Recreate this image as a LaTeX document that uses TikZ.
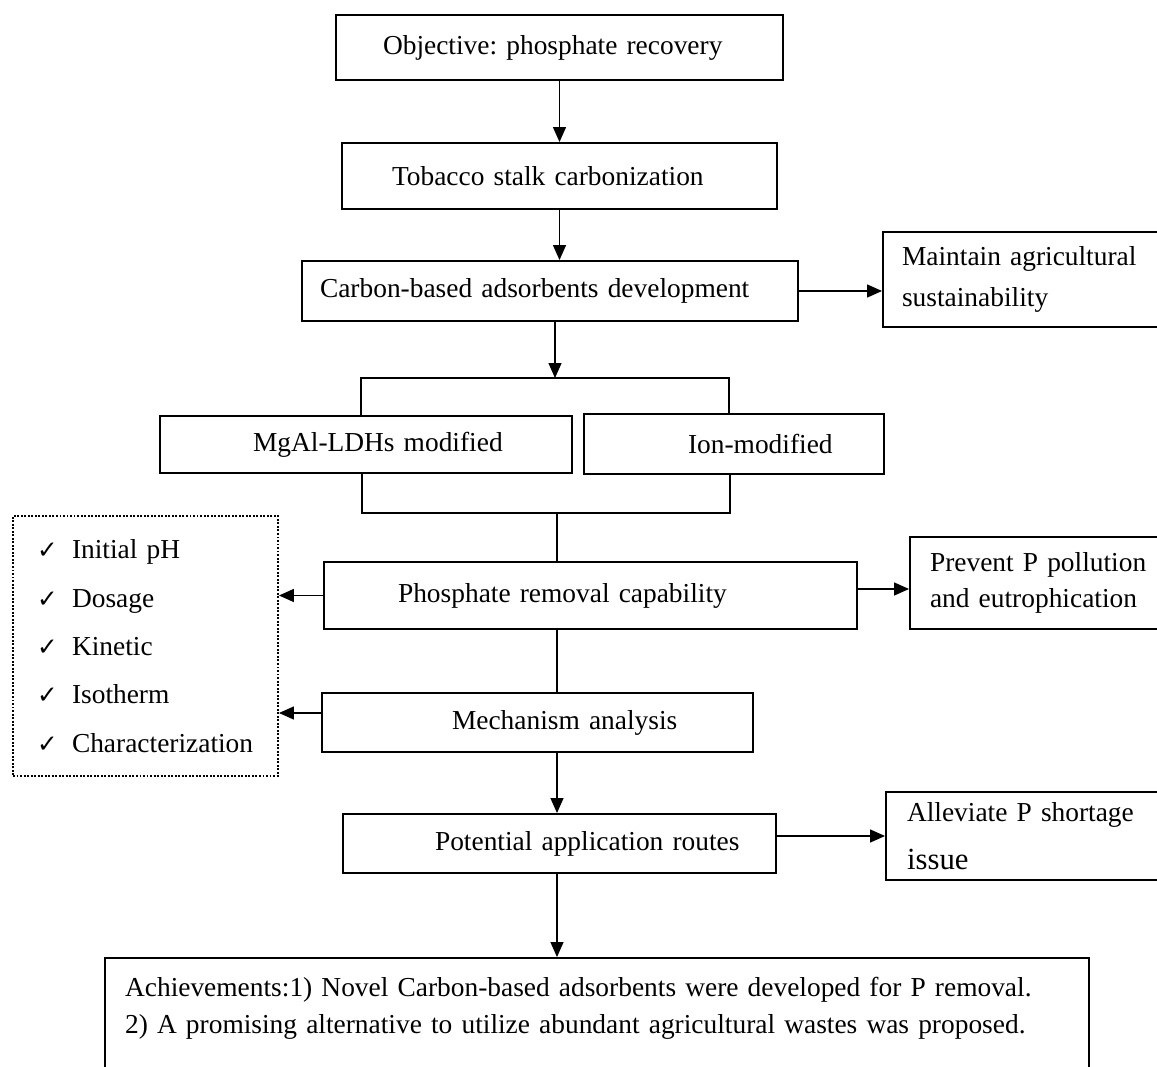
\documentclass[tikz,border=0pt]{standalone}
\usepackage{fontspec}
\setmainfont{Liberation Serif}
\newfontfamily\tickfont{DejaVu Sans}
\usetikzlibrary{arrows.meta}
\frenchspacing

\newcommand{\chk}{\makebox[0.70cm][l]{\tickfont\fontsize{14}{14}\selectfont ✓}}

\begin{document}
\begin{tikzpicture}[x=0.02cm, y=-0.02cm,
        box/.style={draw, line width=1.1pt, align=left, inner ysep=0pt, font=\fontsize{15.6}{19}\selectfont},
        checklist/.style={draw, line width=1.1pt, dash pattern=on 1.1pt off 0.9pt, align=left, inner ysep=0pt},
        arr/.style={line width=0.75pt, -{Triangle[length=3mm, width=2.6mm]}},
        link/.style={line width=0.75pt}]
        % \draw[help lines, step=50] (0,0) grid (1157,1067);
        \useasboundingbox (0,0) rectangle (1157,1067);

        \node[box, minimum width=8.94cm, minimum height=1.30cm, inner xsep=0.94cm, text width=7.06cm] (obj) at (559.5, 47.5) {\mbox{Objective: phosphate recovery}};
        \node[box, minimum width=8.70cm, minimum height=1.32cm, inner xsep=1.00cm, text width=6.70cm] (stalk) at (559.5, 176) {\mbox{Tobacco stalk carbonization}};
        \node[box, minimum width=9.92cm, minimum height=1.20cm, inner xsep=0.36cm, text width=9.20cm] (carbon) at (550, 291) {\mbox{Carbon-based adsorbents development}};
        \node[box, minimum width=5.84cm, minimum height=1.90cm, inner xsep=0.38cm, text width=5.08cm, font=\fontsize{15.6}{23.8}\selectfont] (maintain) at (1029, 279.5) {Maintain agricultural\\ sustainability};

        \node[box, minimum width=8.24cm, minimum height=1.14cm, inner xsep=1.86cm, text width=4.52cm] (ldh) at (366, 444.5) {\mbox{MgAl-LDHs modified}};
        \node[box, minimum width=6.00cm, minimum height=1.20cm, inner xsep=2.08cm, text width=1.84cm] (ion) at (734, 444) {\mbox{Ion-modified}};

        \node[box, minimum width=10.66cm, minimum height=1.34cm, inner xsep=1.48cm, text width=7.70cm] (removal) at (590.5, 595.5) {\mbox{Phosphate removal capability}};
        \node[box, minimum width=5.30cm, minimum height=1.84cm, inner xsep=0.40cm, text width=4.50cm, font=\fontsize{15.6}{20.5}\selectfont] (prevent) at (1042.5, 583) {Prevent P pollution\\ and eutrophication};
        \node[box, minimum width=8.62cm, minimum height=1.18cm, inner xsep=2.60cm, text width=3.42cm] (mech) at (537.5, 722.5) {\mbox{Mechanism analysis}};

        \node[checklist, minimum width=5.30cm, minimum height=5.20cm, inner xsep=0.48cm, text width=4.34cm, font=\fontsize{15.6}{27.5}\selectfont] (factors) at (145.5, 646)
                {\chk Initial pH\\ \chk Dosage\\ \chk Kinetic\\ \chk Isotherm\\ \chk Characterization};

        \node[box, minimum width=8.66cm, minimum height=1.18cm, inner xsep=1.84cm, text width=4.98cm] (routes) at (559.5, 843.5) {\mbox{Potential application routes}};
        \node[box, minimum width=5.78cm, minimum height=1.76cm, inner xsep=0.42cm, text width=4.94cm, font=\fontsize{15.6}{27}\selectfont] (alleviate) at (1030.5, 836) {Alleviate P shortage\\ {\fontsize{17.5}{20}\selectfont issue}};
        \node[box, minimum width=19.68cm, minimum height=2.62cm, inner xsep=0.40cm, text width=18.88cm, font=\fontsize{15.6}{20.7}\selectfont] (achieve) at (597, 1023.5)
                {Achievements:1) Novel Carbon-based adsorbents were developed for P removal.\\ 2) A promising alternative to utilize abundant agricultural wastes was proposed.\\ \mbox{}};

        % main chain
        \draw[arr] (obj.south) -- (stalk.north);
        \draw[arr] (stalk.south) -- (stalk.south |- carbon.north);
        \draw[arr] (carbon.east) -- (carbon.east -| maintain.west);

        % split into the two modified adsorbents
        \coordinate (split) at (555, 378);
        \coordinate (splitL) at (361, 378);
        \coordinate (splitR) at (729, 378);
        \draw[arr] (split |- carbon.south) -- (split);
        \draw[link] (splitL |- ldh.north) -- (splitL) -- (splitR) -- (splitR |- ion.north);

        \coordinate (join) at (557, 513);
        \coordinate (joinL) at (362, 513);
        \coordinate (joinR) at (730, 513);
        \draw[link] (joinL |- ldh.south) -- (joinL) -- (joinR) -- (joinR |- ion.south);
        \draw[link] (join) -- (join |- removal.north);

        \draw[arr] (removal.west) -- (removal.west -| factors.east);
        \draw[arr] ([yshift=0.13cm]removal.east) -- ([yshift=0.13cm]removal.east -| prevent.west);
        \draw[link] (join |- removal.south) -- (join |- mech.north);
        \draw[arr] ([yshift=0.19cm]mech.west) -- ([yshift=0.19cm]mech.west -| factors.east);

        \draw[arr] (join |- mech.south) -- (join |- routes.north);
        \draw[arr] (routes.east |- alleviate.west) -- (alleviate.west);
        \draw[arr] (join |- routes.south) -- (join |- achieve.north);
    \end{tikzpicture}
\end{document}
